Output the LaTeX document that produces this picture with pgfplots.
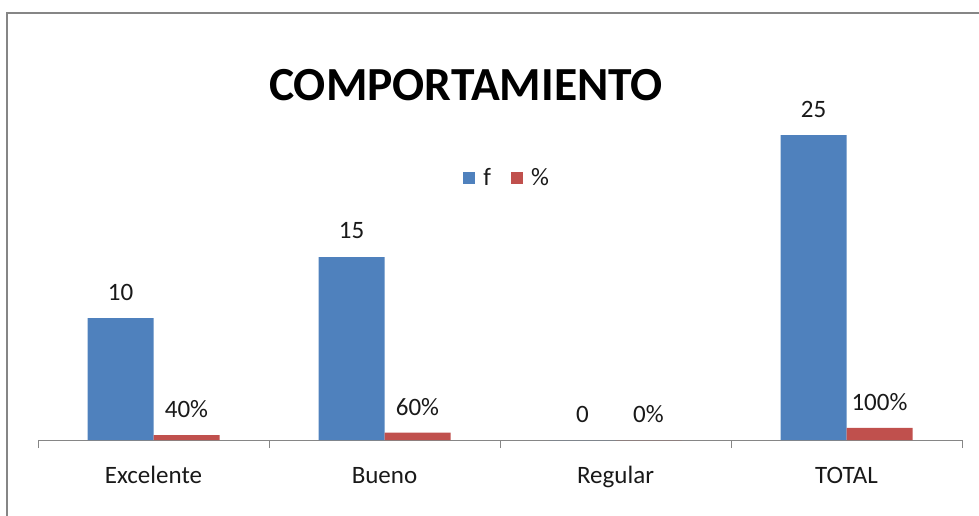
\documentclass[border=0pt]{standalone}
\usepackage{pgfplots}
\pgfplotsset{compat=1.18}
\usepackage{fontspec}
\setmainfont{Carlito}
\definecolor{fblue}{RGB}{79,129,189}
\definecolor{pred}{RGB}{192,80,77}
\definecolor{txt}{RGB}{25,25,25}
\definecolor{axgray}{RGB}{134,134,134}
\begin{document}
\begin{tikzpicture}[x=1pt,y=1pt]
\useasboundingbox (0,0) rectangle (979,515);
\clip (0,0) rectangle (979,515);
\draw[axgray, line width=2pt] (7,-20) -- (7,502) -- (1000,502);
\node[font=\fontsize{47.5}{50}\selectfont\bfseries, text=black] at (466,430) {COMPORTAMIENTO};
\begin{axis}[
  at={(38pt,75pt)}, anchor=south west, scale only axis,
  width=924pt, height=366pt,
  ybar=0pt, bar width=66pt,
  xmin=-0.5, xmax=3.5, ymin=0, ymax=30,
  axis y line=none, axis x line*=bottom,
  x axis line style={axgray, line width=1pt},
  xtick={0,1,2,3}, xticklabels={Excelente,Bueno,Regular,TOTAL},
  major tick length=0pt,
  minor xtick={-0.5,0.5,1.5,2.5,3.5}, minor tick length=8pt,
  tick align=outside,
  minor tick style={axgray, line width=1pt},
  xticklabel style={font=\fontsize{25}{30}\selectfont, text=txt, anchor=base, yshift=-43pt},
  clip=false,
  nodes near coords, point meta=explicit symbolic,
  every node near coord/.append style={font=\fontsize{25}{30}\selectfont, text=txt, anchor=center, yshift=26pt},
  legend style={draw=none, fill=none, at={(0.457,0.716)}, anchor=west,
    font=\fontsize{25}{30}\selectfont, text=txt, legend columns=2,
    /tikz/every odd column/.append style={column sep=6pt},
    /tikz/every even column/.append style={column sep=18pt}},
  legend image code/.code={\fill (0pt,-6pt) rectangle (12pt,6pt);},
]
\addplot[fill=fblue, draw=none] coordinates {(0,10) [10] (1,15) [15] (2,0) [0] (3,25) [25]};
\addplot[fill=pred, draw=none] coordinates {(0,0.4) [40\%] (1,0.6) [60\%] (2,0) [0\%] (3,1) [100\%]};
\legend{f,\%}
\end{axis}
\end{tikzpicture}
\end{document}
